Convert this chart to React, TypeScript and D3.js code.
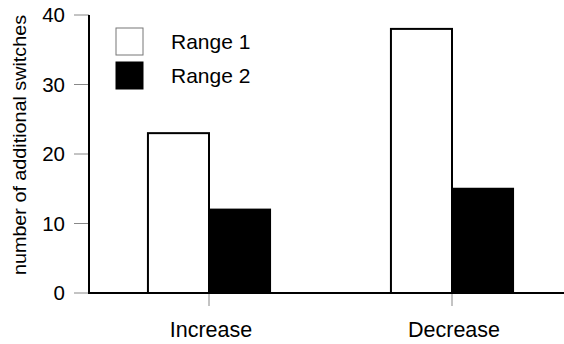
import React from "react";
import * as d3 from "d3";

const categories = ["Increase", "Decrease"];
const series = ["Range 1", "Range 2"];
const range1 = [23, 38];
const range2 = [12, 15];
const yTicks = [0, 10, 20, 30, 40];

const W = 564;
const H = 344;
const font = "'Liberation Sans', Arial, Helvetica, sans-serif";

export default function App() {
  const y = d3.scaleLinear().domain([0, 40]).range([293, 15]);
  const x0 = d3.scaleBand().domain(categories).range([87.5, 573.5]);
  const x1 = d3
    .scaleBand()
    .domain(series)
    .range([0, x0.bandwidth()])
    .paddingOuter(0.99);

  const values = [range1, range2];
  const fills = ["#fff", "#000"];

  return (
    <svg
      width={W}
      height={H}
      style={{ position: "absolute", left: 0, top: 0, background: "#fff" }}
      fontFamily={font}
    >
      {/* y ticks */}
      {yTicks.map((t) => (
        <g key={t}>
          <line x1={74} x2={89} y1={y(t)} y2={y(t)} stroke="#888" strokeWidth={1} />
          <text x={65} y={y(t)} dy="0.36em" textAnchor="end" fontSize={20.5}>
            {t}
          </text>
        </g>
      ))}

      {/* x ticks */}
      {categories.map((c) => {
        const cx = x0(c)! + x0.bandwidth() / 2;
        return (
          <g key={c}>
            <line x1={cx} x2={cx} y1={293} y2={306} stroke="#888" strokeWidth={1} />
            <text x={cx + 2} y={337} textAnchor="middle" fontSize={21.5}>
              {c}
            </text>
          </g>
        );
      })}

      {/* bars */}
      {series.map((s, si) =>
        categories.map((c, ci) => {
          const bx = x0(c)! + x1(s)!;
          const v = values[si][ci];
          return (
            <rect
              key={s + c}
              x={bx}
              y={y(v)}
              width={x1.bandwidth()}
              height={y(0) - y(v)}
              fill={fills[si]}
              stroke="#000"
              strokeWidth={2}
            />
          );
        })
      )}

      {/* axes */}
      <line x1={89} x2={89} y1={15} y2={294} stroke="#000" strokeWidth={2} />
      <line x1={88} x2={W} y1={293} y2={293} stroke="#000" strokeWidth={2} />

      {/* y label */}
      <text
        transform="translate(26,145) rotate(-90)"
        textAnchor="middle"
        fontSize={17.5}
        textLength={260}
        lengthAdjust="spacingAndGlyphs"
      >
        number of additional switches
      </text>

      {/* legend */}
      {series.map((s, i) => (
        <g key={s} transform={`translate(116,${28 + i * 34})`}>
          <rect
            x={0}
            y={0}
            width={27}
            height={27}
            fill={fills[i]}
            stroke={i === 0 ? "#777" : "#000"}
            strokeWidth={1}
          />
          <text x={55} y={20.5} fontSize={21}>
            {s}
          </text>
        </g>
      ))}
    </svg>
  );
}
